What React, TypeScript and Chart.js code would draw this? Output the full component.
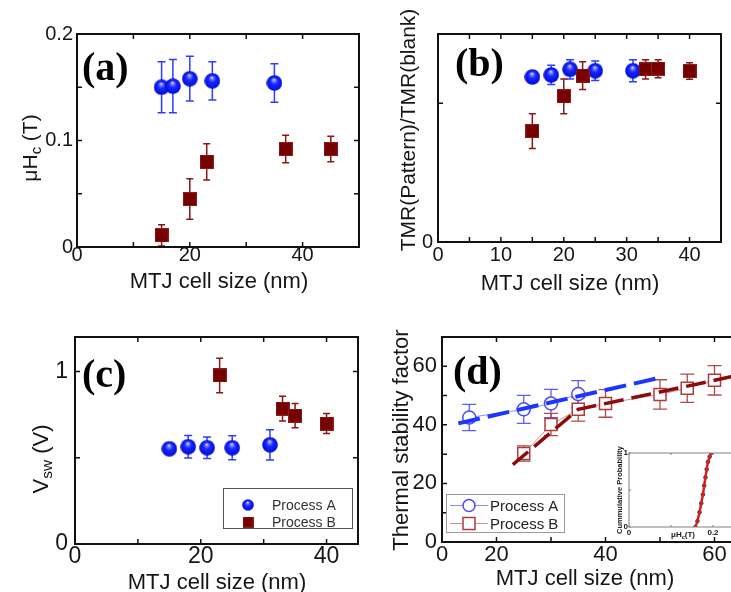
import { useEffect, useRef } from 'react';
import { Chart, registerables } from 'chart.js';

Chart.register(...registerables);

const SANS = '"Liberation Sans", Arial, Helvetica, sans-serif';
const SERIF = '"Liberation Serif", "Times New Roman", Times, serif';
const INK = '#161616';

// ---------- (a) coercivity vs MTJ cell size ----------
const aSizeA = [15, 17, 20, 24, 35];
const aHcA = [0.15, 0.151, 0.158, 0.156, 0.154];
const aHcErrA = [0.024, 0.025, 0.021, 0.018, 0.018];
const aSizeB = [15, 20, 23, 37, 45];
const aHcB = [0.011, 0.045, 0.08, 0.092, 0.092];
const aHcErrB = [0.01, 0.019, 0.017, 0.013, 0.012];
const aXTicks = [0, 10, 20, 30, 40];
const aXLabels = ['0', '', '20', '', '40'];
const aYTicks = [0, 0.05, 0.1, 0.15, 0.2];
const aYLabels = ['0', '', '0.1', '', '0.2'];

// ---------- (b) TMR ratio vs MTJ cell size ----------
const bSizeA = [15, 18, 21, 25, 31];
const bTmrA = [1.19, 1.205, 1.245, 1.235, 1.235];
const bTmrErrA = [0.03, 0.07, 0.07, 0.07, 0.08];
const bSizeB = [15, 20, 23, 33, 35, 40];
const bTmrB = [0.8, 1.05, 1.2, 1.245, 1.25, 1.233];
const bTmrErrB = [0.125, 0.125, 0.1, 0.07, 0.065, 0.06];
const bXTicks = [0, 5, 10, 15, 20, 25, 30, 35, 40];
const bXLabels = ['0', '', '10', '', '20', '', '30', '', '40'];
const bYTicks = [0, 1];
const bYLabels = ['0', ''];

// ---------- (c) switching voltage vs MTJ cell size ----------
const cSizeA = [15, 18, 21, 25, 31];
const cVswA = [0.552, 0.564, 0.558, 0.558, 0.575];
const cVswErrA = [0.02, 0.065, 0.062, 0.07, 0.088];
const cSizeB = [23, 33, 35, 40];
const cVswB = [0.977, 0.785, 0.744, 0.698];
const cVswErrB = [0.1, 0.072, 0.07, 0.058];
const cXTicks = [0, 10, 20, 30, 40];
const cXLabels = ['0', '', '20', '', '40'];
const cYTicks = [0, 0.5, 1];
const cYLabels = ['0', '', '1'];

// ---------- (d) thermal stability factor vs MTJ cell size ----------
const dSizeA = [15, 25, 30, 35];
const dDeltaA = [42.5, 45.3, 47.3, 50.5];
const dDeltaErrA = [4.5, 4.8, 4.8, 4.6];
const dSizeB = [25, 30, 35, 40, 50, 55, 60];
const dDeltaB = [30.2, 40.1, 45.3, 47.3, 50.4, 52.5, 55.2];
const dDeltaErrB = [2.6, 3.8, 4.0, 4.7, 5.0, 4.8, 5.0];
const dFitSizeA = [13, 50.5];
const dFitDeltaA = [40.5, 56.3];
const dFitSizeB = [23, 35, 65];
const dFitDeltaB = [26.4, 45.3, 57.2];
const dXTicks = [10, 20, 30, 40, 50, 60];
const dXLabels = ['0', '20', '', '40', '', '60'];
const dYTicks = [0, 10, 20, 30, 40, 50, 60];
const dYLabels = ['0', '', '20', '', '40', '', '60'];

// ---------- (d) inset: cumulative probability of μHc ----------
const insetHc = [0.158, 0.163, 0.168, 0.172, 0.176, 0.179, 0.182, 0.185, 0.188, 0.192, 0.196];
const insetProb = [0, 0.08, 0.2, 0.32, 0.44, 0.56, 0.67, 0.78, 0.88, 0.95, 1];
const insetXTicks = [0, 0.1, 0.2];
const insetXLabels = ['0', '', '0.2'];
const insetYTicks = [0, 0.5, 1];
const insetYLabels = ['0', '', '1'];

const pts = (xs: number[], ys: number[]) => xs.map((x, i) => ({ x, y: ys[i] }));

function sphere(d: number) {
  const c = document.createElement('canvas');
  c.width = d;
  c.height = d;
  const g = c.getContext('2d')!;
  const r = d / 2;
  const grad = g.createRadialGradient(r * 0.95, r * 0.55, 0, r, r, r);
  grad.addColorStop(0, '#eef0ff');
  grad.addColorStop(0.18, '#7a82ff');
  grad.addColorStop(0.45, '#1828ff');
  grad.addColorStop(1, '#000ad6');
  g.fillStyle = grad;
  g.beginPath();
  g.arc(r, r, r - 0.2, 0, Math.PI * 2);
  g.fill();
  return c;
}

function block(s: number) {
  const c = document.createElement('canvas');
  c.width = s;
  c.height = s;
  const g = c.getContext('2d')!;
  g.fillStyle = '#8e1a1a';
  g.fillRect(0, 0, s, s);
  g.fillStyle = '#760000';
  g.fillRect(1, 1, s - 2, s - 2);
  return c;
}

type Part = { t: string; sub?: boolean };
type RichOpt = { rot?: boolean; weight?: string; family?: string; align?: 'left' | 'center'; color?: string };

function rich(ctx: CanvasRenderingContext2D, parts: Part[], x: number, y: number, size: number, o: RichOpt = {}) {
  ctx.save();
  ctx.translate(x, y);
  if (o.rot) ctx.rotate(-Math.PI / 2);
  const font = (sub?: boolean) =>
    `${o.weight || 'normal'} ${sub ? Math.round(size * 0.7 * 10) / 10 : size}px ${o.family || SANS}`;
  let total = 0;
  const widths = parts.map((p) => {
    ctx.font = font(p.sub);
    const w = ctx.measureText(p.t).width;
    total += w;
    return w;
  });
  let cx = o.align === 'left' ? 0 : -total / 2;
  ctx.fillStyle = o.color || INK;
  ctx.textAlign = 'left';
  ctx.textBaseline = 'alphabetic';
  parts.forEach((p, i) => {
    ctx.font = font(p.sub);
    ctx.fillText(p.t, cx, p.sub ? size * 0.2 : 0);
    cx += widths[i];
  });
  ctx.restore();
}

interface AxisCfg {
  min: number;
  max: number;
  ticks: number[];
  labels: string[];
  font: number;
  pad: number;
  size: number;
  weight?: string;
}

interface PanelCfg {
  left: number;
  top: number;
  pad: { left: number; top: number; right: number; bottom: number };
  x: AxisCfg;
  y: AxisCfg;
  datasets: any[];
  frameColor: string;
  frameWidth: number;
  tickLen: number;
  tickWidth: number;
  whiteArea?: boolean;
  extra: (ctx: CanvasRenderingContext2D) => void;
}

function axis(a: AxisCfg, horizontal: boolean) {
  return {
    type: 'linear' as const,
    position: horizontal ? 'bottom' : 'left',
    min: a.min,
    max: a.max,
    afterBuildTicks: (s: any) => {
      s.ticks = a.ticks.map((v) => ({ value: v }));
    },
    afterFit: (s: any) => {
      if (horizontal) s.height = a.size;
      else s.width = a.size;
    },
    grid: { display: false, drawTicks: false },
    border: { display: false },
    ticks: {
      autoSkip: false,
      maxRotation: 0,
      minRotation: 0,
      padding: a.pad,
      color: INK,
      font: { family: SANS, size: a.font, weight: a.weight || 'normal' },
      callback: (_v: any, i: number) => a.labels[i],
    },
  };
}

function drawErrors(chart: any) {
  const ctx: CanvasRenderingContext2D = chart.ctx;
  const xs = chart.scales.x;
  const ys = chart.scales.y;
  chart.data.datasets.forEach((ds: any) => {
    if (!ds.errors) return;
    ctx.save();
    ctx.strokeStyle = ds.errColor;
    ctx.lineWidth = ds.errWidth;
    ds.data.forEach((p: any, i: number) => {
      const e = ds.errors[i];
      const px = xs.getPixelForValue(p.x);
      const t = ys.getPixelForValue(p.y + e);
      const b = ys.getPixelForValue(p.y - e);
      const h = ds.capHalf;
      ctx.beginPath();
      ctx.moveTo(px, t);
      ctx.lineTo(px, b);
      ctx.moveTo(px - h, t);
      ctx.lineTo(px + h, t);
      ctx.moveTo(px - h, b);
      ctx.lineTo(px + h, b);
      ctx.stroke();
    });
    ctx.restore();
  });
}

function makePanel(canvas: HTMLCanvasElement, p: PanelCfg) {
  const decor = {
    id: 'panelDecor',
    beforeDatasetsDraw(chart: any) {
      const ca = chart.chartArea;
      if (p.whiteArea) {
        chart.ctx.save();
        chart.ctx.fillStyle = '#fff';
        chart.ctx.fillRect(ca.left, ca.top, ca.right - ca.left, ca.bottom - ca.top);
        chart.ctx.restore();
      }
      drawErrors(chart);
    },
    afterDatasetsDraw(chart: any) {
      const ctx: CanvasRenderingContext2D = chart.ctx;
      const ca = chart.chartArea;
      const xs = chart.scales.x;
      const ys = chart.scales.y;
      ctx.save();
      ctx.strokeStyle = p.frameColor;
      ctx.lineWidth = p.frameWidth;
      ctx.strokeRect(ca.left, ca.top, ca.right - ca.left, ca.bottom - ca.top);
      ctx.beginPath();
      p.x.ticks.forEach((v) => {
        const px = xs.getPixelForValue(v);
        ctx.moveTo(px, ca.bottom);
        ctx.lineTo(px, ca.bottom - p.tickLen);
        ctx.moveTo(px, ca.top);
        ctx.lineTo(px, ca.top + p.tickLen);
      });
      p.y.ticks.forEach((v) => {
        const py = ys.getPixelForValue(v);
        ctx.moveTo(ca.left, py);
        ctx.lineTo(ca.left + p.tickLen, py);
        ctx.moveTo(ca.right, py);
        ctx.lineTo(ca.right - p.tickLen, py);
      });
      ctx.lineWidth = p.tickWidth;
      ctx.stroke();
      ctx.restore();
    },
    afterDraw(chart: any) {
      const ctx: CanvasRenderingContext2D = chart.ctx;
      ctx.save();
      ctx.translate(-p.left, -p.top);
      p.extra(ctx);
      ctx.restore();
    },
  };
  return new Chart(canvas, {
    type: 'scatter',
    data: { datasets: p.datasets },
    options: {
      responsive: false,
      animation: false,
      devicePixelRatio: 1,
      events: [],
      layout: { padding: p.pad, autoPadding: false },
      plugins: { legend: { display: false }, tooltip: { enabled: false }, title: { display: false } },
      scales: { x: axis(p.x, true) as any, y: axis(p.y, false) as any },
    },
    plugins: [decor],
  } as any);
}

function filledA(xs: number[], ys: number[], es: number[], img: HTMLCanvasElement) {
  return {
    data: pts(xs, ys),
    errors: es,
    errColor: '#2f3cff',
    errWidth: 1.5,
    capHalf: 4,
    pointStyle: img,
    pointRadius: 8,
    showLine: false,
    order: 1,
  };
}

function filledB(xs: number[], ys: number[], es: number[], img: HTMLCanvasElement) {
  return {
    data: pts(xs, ys),
    errors: es,
    errColor: '#8a1515',
    errWidth: 1.5,
    capHalf: 3.5,
    pointStyle: img,
    pointRadius: 8,
    showLine: false,
    order: 0,
  };
}

const canvasStyle = (l: number, t: number, w: number, h: number) => ({
  position: 'absolute' as const,
  left: l,
  top: t,
  width: w,
  height: h,
});

export default function App() {
  const refA = useRef<HTMLCanvasElement>(null);
  const refB = useRef<HTMLCanvasElement>(null);
  const refC = useRef<HTMLCanvasElement>(null);
  const refD = useRef<HTMLCanvasElement>(null);
  const refI = useRef<HTMLCanvasElement>(null);

  useEffect(() => {
    document.body.style.margin = '0';
    const sph = sphere(16);
    const sphSmall = sphere(12);
    const blk = block(14);
    const blkSmall = block(11);

    const chartA = makePanel(refA.current!, {
      left: 0,
      top: 0,
      pad: { left: 0, top: 34, right: 6, bottom: 0 },
      x: { min: 0, max: 50, ticks: aXTicks, labels: aXLabels, font: 20, pad: -3.5, size: 48 },
      y: { min: 0, max: 0.2, ticks: aYTicks, labels: aYLabels, font: 20, pad: 4, size: 77 },
      datasets: [filledA(aSizeA, aHcA, aHcErrA, sph), filledB(aSizeB, aHcB, aHcErrB, blk)],
      frameColor: '#111',
      frameWidth: 2,
      tickLen: 5,
      tickWidth: 1.5,
      extra: (ctx) => {
        rich(ctx, [{ t: 'μH' }, { t: 'c', sub: true }, { t: ' (T)' }], 37, 148, 21, { rot: true });
        rich(ctx, [{ t: 'MTJ cell size (nm)' }], 219, 288, 22);
        rich(ctx, [{ t: '(a)' }], 82, 80, 40, { family: SERIF, weight: 'bold', align: 'left', color: '#000' });
      },
    });

    const chartB = makePanel(refB.current!, {
      left: 365,
      top: 0,
      pad: { left: 0, top: 34, right: 10, bottom: 0 },
      x: { min: 0, max: 45, ticks: bXTicks, labels: bXLabels, font: 20, pad: 1.5, size: 53 },
      y: { min: 0, max: 1.5, ticks: bYTicks, labels: bYLabels, font: 20, pad: 5, size: 73 },
      datasets: [filledA(bSizeA, bTmrA, bTmrErrA, sph), filledB(bSizeB, bTmrB, bTmrErrB, blk)],
      frameColor: '#111',
      frameWidth: 2,
      tickLen: 5,
      tickWidth: 1.5,
      extra: (ctx) => {
        rich(ctx, [{ t: 'TMR(Pattern)/TMR(blank)' }], 415, 130, 21, { rot: true });
        rich(ctx, [{ t: 'MTJ cell size (nm)' }], 570, 290, 22);
        rich(ctx, [{ t: '(b)' }], 455, 76, 40, { family: SERIF, weight: 'bold', align: 'left', color: '#000' });
      },
    });

    const chartC = makePanel(refC.current!, {
      left: 0,
      top: 295,
      pad: { left: 0, top: 42, right: 7, bottom: 0 },
      x: { min: 0, max: 45, ticks: cXTicks, labels: cXLabels, font: 23, pad: -1.3, size: 48 },
      y: { min: 0, max: 1.2, ticks: cYTicks, labels: cYLabels, font: 23, pad: 7, size: 75 },
      datasets: [filledA(cSizeA, cVswA, cVswErrA, sph), filledB(cSizeB, cVswB, cVswErrB, blk)],
      frameColor: '#111',
      frameWidth: 2,
      tickLen: 5,
      tickWidth: 1.5,
      extra: (ctx) => {
        rich(ctx, [{ t: 'V' }, { t: 'sw', sub: true }, { t: ' (V)' }], 48, 459, 22, { rot: true });
        rich(ctx, [{ t: 'MTJ cell size (nm)' }], 217, 589, 22);
        rich(ctx, [{ t: '(c)' }], 82, 387, 40, { family: SERIF, weight: 'bold', align: 'left', color: '#000' });
        // legend
        ctx.save();
        ctx.fillStyle = '#fff';
        ctx.fillRect(223.5, 488.5, 129, 40);
        ctx.strokeStyle = '#555';
        ctx.lineWidth = 1;
        ctx.strokeRect(223.5, 488.5, 129, 40);
        ctx.drawImage(sphSmall, 248 - 6, 505 - 6);
        ctx.drawImage(blkSmall, 248 - 5.5, 522 - 5.5);
        ctx.restore();
        rich(ctx, [{ t: 'Process A' }], 272, 510, 14, { align: 'left', color: '#333' });
        rich(ctx, [{ t: 'Process B' }], 272, 527, 14, { align: 'left', color: '#333' });
      },
    });

    const chartD = makePanel(refD.current!, {
      left: 365,
      top: 295,
      pad: { left: 0, top: 42, right: 16, bottom: 0 },
      x: { min: 10, max: 70, ticks: dXTicks, labels: dXLabels, font: 22, pad: -0.7, size: 50 },
      y: { min: 0, max: 70, ticks: dYTicks, labels: dYLabels, font: 22, pad: 5, size: 77 },
      datasets: [
        {
          data: pts(dFitSizeA, dFitDeltaA),
          showLine: true,
          borderColor: '#1c36ff',
          borderWidth: 4,
          borderDash: [22, 8],
          pointRadius: 0,
          order: 0,
        },
        {
          data: pts(dFitSizeB, dFitDeltaB),
          showLine: true,
          borderColor: '#8a0c0c',
          borderWidth: 3.5,
          borderDash: [20, 8],
          pointRadius: 0,
          order: 0,
        },
        {
          data: pts(dSizeA, dDeltaA),
          showLine: true,
          borderColor: '#9090ff',
          borderWidth: 1,
          pointStyle: 'circle',
          pointRadius: 6.5,
          pointBorderWidth: 1.5,
          pointBorderColor: '#4a4aff',
          pointBackgroundColor: '#fff',
          errors: dDeltaErrA,
          errColor: '#5c5cff',
          errWidth: 1.3,
          capHalf: 7,
          order: 1,
        },
        {
          data: pts(dSizeB, dDeltaB),
          showLine: true,
          borderColor: '#d09898',
          borderWidth: 1,
          pointStyle: 'rect',
          pointRadius: 8.5,
          pointBorderWidth: 1.5,
          pointBorderColor: '#b03a3a',
          pointBackgroundColor: '#fff',
          errors: dDeltaErrB,
          errColor: '#b14a4a',
          errWidth: 1.3,
          capHalf: 7,
          order: 1,
        },
      ],
      frameColor: '#111',
      frameWidth: 2,
      tickLen: 5,
      tickWidth: 1.5,
      extra: (ctx) => {
        rich(ctx, [{ t: 'Thermal stability factor' }], 408, 440, 22, { rot: true });
        rich(ctx, [{ t: 'MTJ cell size (nm)' }], 585, 585, 22);
        rich(ctx, [{ t: '(d)' }], 453, 384, 40, { family: SERIF, weight: 'bold', align: 'left', color: '#000' });
        // legend
        ctx.save();
        ctx.fillStyle = '#fff';
        ctx.fillRect(446.5, 494.5, 118, 38);
        ctx.strokeStyle = '#9a9a9a';
        ctx.lineWidth = 1;
        ctx.strokeRect(446.5, 494.5, 118, 38);
        ctx.beginPath();
        ctx.strokeStyle = '#8c8cff';
        ctx.moveTo(450, 505.5);
        ctx.lineTo(488, 505.5);
        ctx.stroke();
        ctx.beginPath();
        ctx.strokeStyle = '#cf9090';
        ctx.moveTo(450, 523.5);
        ctx.lineTo(488, 523.5);
        ctx.stroke();
        ctx.lineWidth = 1.5;
        ctx.beginPath();
        ctx.arc(469, 505.5, 6, 0, Math.PI * 2);
        ctx.fill();
        ctx.strokeStyle = '#4a4aff';
        ctx.stroke();
        ctx.fillRect(463, 517.5, 12, 12);
        ctx.strokeStyle = '#b03a3a';
        ctx.strokeRect(463, 517.5, 12, 12);
        ctx.restore();
        rich(ctx, [{ t: 'Process A' }], 490, 511, 15, { align: 'left', color: '#222' });
        rich(ctx, [{ t: 'Process B' }], 490, 529, 15, { align: 'left', color: '#222' });
      },
    });

    const chartI = makePanel(refI.current!, {
      left: 596,
      top: 440,
      pad: { left: 0, top: 13, right: 12, bottom: 0 },
      x: { min: 0, max: 0.25, ticks: insetXTicks, labels: insetXLabels, font: 8, pad: 1, size: 17, weight: 'bold' },
      y: { min: 0, max: 1, ticks: insetYTicks, labels: insetYLabels, font: 8, pad: 1, size: 33, weight: 'bold' },
      datasets: [
        {
          data: pts(insetHc, insetProb),
          showLine: true,
          borderColor: '#d42020',
          borderWidth: 2.5,
          pointRadius: 0,
          order: 0,
        },
        {
          data: pts(insetHc, insetProb),
          showLine: false,
          pointRadius: 1.8,
          pointBorderWidth: 0.8,
          pointBorderColor: '#222',
          pointBackgroundColor: '#555',
          order: 1,
        },
      ],
      frameColor: '#808080',
      frameWidth: 1,
      tickLen: 2,
      tickWidth: 1,
      whiteArea: true,
      extra: (ctx) => {
        rich(ctx, [{ t: 'Cummulative Probability' }], 622, 490, 7.5, { rot: true, weight: 'bold' });
        rich(ctx, [{ t: 'μH' }, { t: 'c', sub: true }, { t: '(T)' }], 683, 537, 8, { weight: 'bold' });
      },
    });

    return () => {
      chartA.destroy();
      chartB.destroy();
      chartC.destroy();
      chartD.destroy();
      chartI.destroy();
    };
  }, []);

  return (
    <div
      style={{
        position: 'fixed',
        left: 0,
        top: 0,
        width: 731,
        height: 592,
        overflow: 'hidden',
        background: '#fff',
      }}
    >
      <canvas ref={refA} width={365} height={295} style={canvasStyle(0, 0, 365, 295)} />
      <canvas ref={refB} width={366} height={295} style={canvasStyle(365, 0, 366, 295)} />
      <canvas ref={refC} width={365} height={297} style={canvasStyle(0, 295, 365, 297)} />
      <canvas ref={refD} width={420} height={297} style={canvasStyle(365, 295, 420, 297)} />
      <canvas ref={refI} width={150} height={104} style={canvasStyle(596, 440, 150, 104)} />
    </div>
  );
}
